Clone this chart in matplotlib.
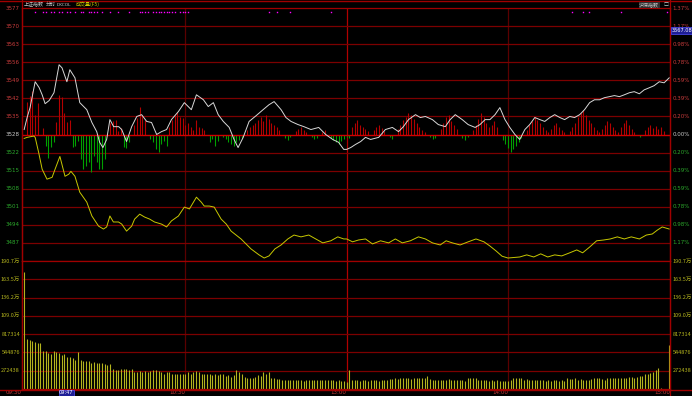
import matplotlib
matplotlib.use("Agg")
import matplotlib.pyplot as plt
import matplotlib.transforms as mtransforms
from matplotlib.lines import Line2D

plt.rcParams['font.family'] = ['Noto Sans CJK SC', 'DejaVu Sans']

# ---- data -------------------------------------------------------------
prev_close = 3528.5
step = 6.92  # one grid row, in index points

up_labels = ["3535", "3542", "3549", "3556", "3563", "3570", "3577"]
down_labels = ["3522", "3515", "3508", "3501", "3494", "3487"]
pct_labels = ["0.20%", "0.39%", "0.59%", "0.78%", "0.98%", "1.17%", "1.37%"]

vol_step = 272438
vol_labels = ["272438", "544876", "817314", "109.0万", "136.2万", "163.5万", "190.7万"]

time_labels = ["09:30", "10:30", "13:00", "14:00", "15:00"]
time_pos = [-0.8, 60, 120, 180, 240.3]

# weighted index (white line): minute, price
white_min = [0, 1.1, 2.2, 4.1, 5.6, 6.7, 7.8, 9.3, 11.1, 13,
             14.1, 15.9, 17, 18.9, 20.7, 23.3, 25.2, 27, 28.1, 29.3,
             30.7, 31.9, 33.3, 35.2, 36.3, 38.1, 40, 41.9, 43.7, 45.6,
             47.4, 49.3, 51.1, 53, 54.8, 57.4, 59.6, 62.2, 64.1, 66.7,
             68.5, 70.4, 72.2, 74.1, 76.3, 78.1, 79.6, 81.5, 83.7, 86.3,
             88.9, 91.1, 93, 95.6, 97.4, 99.3, 101.9, 104.1, 106.7, 109.6,
             112.2, 114.8, 117, 118.9, 120, 121.5, 123.3, 125.2, 127, 128.9,
             131.9, 134.4, 137, 139.3, 141.1, 143, 145.6, 147.4, 149.3, 151.9,
             154.1, 156.7, 158.5, 160.4, 163, 165.2, 167.8, 169.6, 171.5, 173.3,
             175.2, 177, 178.9, 180.7, 182.6, 184.4, 186.3, 188.1, 190, 191.9,
             193.7, 195.6, 197.4, 199.3, 201.1, 203, 204.8, 206.7, 208.5, 210.4,
             212.2, 214.1, 215.9, 217.8, 219.6, 221.5, 223.3, 225.2, 227, 228.9,
             230.7, 232.6, 234.4, 236.3, 238.1, 240]
white_px = [3530.4, 3535.0, 3538.8, 3548.7, 3546.4, 3543.7, 3540.3, 3541.5, 3544.5, 3555.2,
            3554.0, 3548.7, 3553.3, 3550.2, 3540.7, 3538.0, 3533.1, 3529.6, 3525.5, 3523.5,
            3526.6, 3534.2, 3531.5, 3531.5, 3530.4, 3525.8, 3531.5, 3535.4, 3536.1, 3533.5,
            3533.1, 3528.5, 3529.6, 3530.4, 3534.2, 3537.3, 3540.7, 3538.0, 3543.7, 3541.8,
            3539.2, 3540.7, 3536.1, 3533.5, 3531.2, 3526.6, 3523.5, 3527.4, 3533.5, 3535.7,
            3538.0, 3539.9, 3541.1, 3538.0, 3535.0, 3533.5, 3532.3, 3531.5, 3530.4, 3531.2,
            3528.5, 3526.6, 3525.5, 3522.8, 3522.8, 3523.5, 3524.7, 3525.8, 3527.4, 3526.6,
            3527.4, 3530.4, 3531.2, 3529.6, 3531.5, 3534.2, 3536.1, 3535.0, 3535.4, 3534.2,
            3532.3, 3531.5, 3534.2, 3536.1, 3534.2, 3532.3, 3531.2, 3532.3, 3534.2, 3534.2,
            3536.1, 3538.8, 3534.2, 3531.2, 3528.5, 3526.6, 3530.4, 3532.3, 3535.0, 3534.2,
            3533.5, 3535.0, 3536.1, 3535.0, 3534.2, 3535.4, 3535.0, 3536.1, 3538.0, 3540.7,
            3541.8, 3541.8, 3542.6, 3543.0, 3543.4, 3543.0, 3543.7, 3544.5, 3544.9, 3544.1,
            3545.6, 3546.4, 3547.2, 3548.7, 3548.3, 3550.2]

# unweighted index (yellow line)
yellow_min = [0, 1.1, 3.6, 4.1, 5.4, 6.7, 8.5, 10.4, 11.5, 13.3,
              15.2, 16.6, 17.4, 18.9, 20.7, 23.3, 25.2, 27.7, 29.5, 30.7,
              31.9, 33.2, 35.1, 36.3, 38.1, 40, 41.1, 43, 44.8, 46.7,
              48.5, 51.1, 53, 54.8, 57.4, 59.6, 61.5, 64.1, 65.9, 67,
              68.9, 70.7, 73.3, 75.2, 77, 80.7, 84.4, 87.4, 89.3, 91.1,
              93.3, 95.6, 98.1, 100.4, 103, 105.9, 108.5, 111.1, 114.1, 116.7,
              118.9, 120, 122.2, 124.4, 127, 129.6, 132.6, 135.6, 138.1, 140.7,
              143.7, 146.7, 149.3, 151.9, 154.8, 157, 159.3, 162.2, 165.2, 168.1,
              171.1, 173.3, 175.6, 177.8, 180, 182.2, 184.4, 187, 189.6, 192.2,
              194.8, 197.4, 200, 203, 205.6, 207.8, 210.4, 213, 215.6, 218.1,
              220.7, 223.3, 225.9, 228.9, 231.5, 233.7, 235.6, 237.4, 240]
yellow_px = [3527.0, 3527.4, 3527.9, 3527.4, 3521.6, 3515.2, 3511.4, 3512.1, 3515.2, 3520.1,
             3512.5, 3513.3, 3514.4, 3512.5, 3506.4, 3502.6, 3497.3, 3493.4, 3492.3, 3493.1,
             3497.3, 3495.0, 3495.0, 3494.2, 3491.5, 3493.4, 3496.1, 3498.0, 3496.9, 3496.1,
             3495.0, 3494.2, 3493.1, 3495.4, 3497.3, 3500.7, 3500.0, 3504.5, 3502.6, 3501.1,
             3501.1, 3500.7, 3496.1, 3494.2, 3491.5, 3488.5, 3484.7, 3482.4, 3481.2, 3482.0,
             3484.7, 3486.2, 3488.5, 3490.0, 3489.3, 3490.0, 3488.5, 3487.0, 3487.8, 3489.3,
             3488.5, 3488.5, 3487.4, 3488.1, 3488.5, 3486.6, 3487.8, 3487.0, 3488.5, 3487.0,
             3487.8, 3489.3, 3488.5, 3487.0, 3486.2, 3487.8, 3487.0, 3486.2, 3487.4, 3488.5,
             3487.4, 3485.8, 3483.9, 3481.9, 3481.2, 3481.4, 3481.6, 3482.4, 3481.6, 3482.8,
             3481.6, 3482.4, 3482.0, 3483.2, 3484.3, 3483.2, 3485.4, 3487.8, 3488.1, 3488.5,
             3489.3, 3488.5, 3489.3, 3488.5, 3490.0, 3490.4, 3491.9, 3493.1, 3492.3]

# DKCOL strength bars, one per minute (positive red, negative green)
dkcol = [0, 33, 39, 44, 20, 32, 0, 7, -12, -24,
         -13, -8, 13, 40, 38, 22, 13, 15, -13, -12,
         -7, -25, -35, -32, -28, -38, -22, -28, -35, -35,
         -25, 0, 12, 14, 15, 4, 7, -13, -14, -8,
         0, 10, 17, 28, 20, 15, 0, -5, -8, -15,
         -18, -10, -7, -12, 8, 15, 20, 23, 18, 17,
         10, 12, 8, 5, 15, 8, 7, 5, 0, -8,
         -5, -12, -7, 0, -3, -5, -8, -10, -12, -8,
         -6, -4, 0, 5, 8, 10, 12, 15, 18, 14,
         20, 16, 12, 10, 8, 5, 0, -4, -6, -3,
         0, 4, 6, 8, 5, 3, 0, -3, -5, -4,
         0, 3, 5, 0, -4, -6, -8, -10, -7, -5,
         -3, -4, 8, 12, 15, 10, 8, 6, 4, 0,
         5, 8, 10, 7, 4, 0, -3, -5, 0, 6,
         10, 15, 18, 22, 20, 16, 12, 8, 5, 3,
         0, -3, -5, -4, 0, 6, 12, 18, 20, 14,
         10, 6, 0, -4, -6, -3, 0, 5, 10, 16,
         22, 18, 12, 8, 10, 14, 8, 0, -6, -10,
         -14, -18, -15, -12, -8, -4, 0, 5, 10, 14,
         18, 15, 12, 8, 5, 3, 6, 10, 12, 8,
         5, 3, 0, 4, 8, 12, 18, 22, 25, 20,
         15, 12, 8, 5, 3, 6, 10, 14, 12, 8,
         5, 3, 8, 12, 15, 10, 6, 3, 0, -3,
         0, 5, 8, 10, 7, 9, 6, 8, 4, 0,
         0]
dkcol_scale = 0.381

# volume per minute, in 万 shares
volume_wan = [174, 75, 73, 71, 70, 69, 69, 57, 56, 53,
              52, 56, 55, 53, 51, 52, 48, 48, 46, 43,
              55, 43, 42, 41, 41, 38, 40, 38, 39, 38,
              37, 36, 37, 30, 29, 29, 30, 30, 30, 29,
              30, 26, 25, 27, 26, 27, 26, 27, 28, 29,
              27, 25, 23, 25, 26, 23, 22, 22, 23, 22,
              23, 25, 22, 26, 27, 25, 23, 22, 22, 23,
              21, 23, 21, 22, 22, 20, 21, 18, 21, 28,
              26, 23, 18, 16, 16, 16, 18, 21, 20, 25,
              23, 25, 17, 17, 15, 15, 13, 13, 13, 13,
              13, 13, 13, 13, 12, 14, 13, 13, 13, 13,
              13, 13, 13, 13, 13, 13, 12, 13, 12, 12,
              11, 29, 13, 13, 13, 12, 13, 13, 12, 13,
              13, 13, 12, 13, 13, 14, 15, 15, 16, 15,
              16, 16, 17, 16, 15, 16, 17, 17, 16, 17,
              20, 15, 13, 14, 14, 13, 13, 14, 15, 14,
              14, 14, 13, 13, 12, 17, 16, 16, 17, 13,
              14, 13, 13, 12, 13, 12, 14, 12, 12, 12,
              12, 13, 16, 17, 17, 16, 13, 15, 13, 13,
              13, 13, 13, 13, 12, 13, 12, 13, 13, 12,
              13, 12, 17, 15, 15, 16, 13, 15, 13, 14,
              13, 15, 17, 16, 17, 15, 13, 16, 17, 17,
              16, 17, 17, 16, 17, 18, 18, 17, 18, 20,
              20, 23, 23, 24, 26, 28, 31, 1, 0, 0,
              65]

# minutes with news markers along the top
news_min = [4, 7, 8, 10, 11, 13, 14, 16, 17, 19, 21, 22, 24, 25, 26, 27, 29,
            32, 35, 39, 43, 44, 45, 46, 48, 49, 50, 51, 52, 53, 54, 55, 56,
            58, 59, 60, 61, 91, 94, 99, 114, 204, 208, 210, 222, 239]

assert len(white_min) == len(white_px)
assert len(yellow_min) == len(yellow_px)

# ---- figure -----------------------------------------------------------
W, H = 692, 396
fig = plt.figure(figsize=(W / 100, H / 100), dpi=100, facecolor='black')

def fx(px):
    return px / W

def fy(py):
    return 1 - py / H

x0, x1 = 22, 670
ax = fig.add_axes([fx(x0), fy(261), fx(x1 - x0), fy(8) - fy(261)], facecolor='black')
axv = fig.add_axes([fx(x0), fy(389), fx(x1 - x0), fy(261) - fy(389)], facecolor='black', sharex=ax)

grid_c = '#7c0000'
up_c = '#c83c3c'
dn_c = '#2ca82c'
zero_c = '#c8c8c8'
vol_c = '#b4b41e'
fs = 4
num = 'DejaVu Sans'

for a in (ax, axv):
    a.set_xlim(-0.8, 240.3)
    a.set_xticks([])
    a.set_yticks([])
    for s in a.spines.values():
        s.set_color('#a00000')
        s.set_linewidth(0.9)
    for m, c in ((60, '#5a0000'), (120, '#b00000'), (180, '#5a0000')):
        a.axvline(m, color=c, lw=0.9, zorder=1)

ax.set_ylim(prev_close - 7 * step, prev_close + 7 * step)
for i in range(-6, 7):
    if i == 0:
        continue
    ax.axhline(prev_close + i * step, color=grid_c, lw=0.9, zorder=1)

# DKCOL bars
pos_m = [m for m, v in enumerate(dkcol) if v > 0]
pos_v = [prev_close + v * dkcol_scale for v in dkcol if v > 0]
neg_m = [m for m, v in enumerate(dkcol) if v < 0]
neg_v = [prev_close + v * dkcol_scale for v in dkcol if v < 0]
ax.vlines(pos_m, prev_close, pos_v, colors='#b40000', lw=0.8, zorder=2)
ax.vlines(neg_m, neg_v, prev_close, colors='#00a000', lw=0.8, zorder=2)
ax.axhline(prev_close, color='#d00000', lw=1.0, zorder=3)

ax.plot(yellow_min, yellow_px, color='#c8c800', lw=0.7, zorder=4)
ax.plot(white_min, white_px, color='#d8d8d8', lw=0.7, zorder=5)

trans = mtransforms.blended_transform_factory(ax.transData, ax.transAxes)
ax.plot(news_min, [0.985] * len(news_min), ls='none', marker='s', ms=1.0,
        color='#ff00ff', mec='none', transform=trans, zorder=6)

# price axis labels
ltr = mtransforms.blended_transform_factory(ax.transAxes, ax.transData)
lx = -2 / (x1 - x0)
rx = 1 + 2.5 / (x1 - x0)
for i, lab in enumerate(up_labels, start=1):
    y = prev_close + i * step
    ax.text(lx, y, lab, color=up_c, fontsize=fs, ha='right', va='center', transform=ltr, family=num)
    ax.text(rx, y, pct_labels[i - 1], color=up_c, fontsize=fs, ha='left', va='center', transform=ltr, family=num)
for i, lab in enumerate(down_labels, start=1):
    y = prev_close - i * step
    ax.text(lx, y, lab, color=dn_c, fontsize=fs, ha='right', va='center', transform=ltr, family=num)
    ax.text(rx, y, pct_labels[i - 1], color=dn_c, fontsize=fs, ha='left', va='center', transform=ltr, family=num)
ax.text(lx, prev_close, "3528", color=zero_c, fontsize=fs, ha='right', va='center', transform=ltr, family=num)
ax.text(rx, prev_close, "0.00%", color=zero_c, fontsize=fs, ha='left', va='center', transform=ltr, family=num)

# volume panel
volume = [v * 10000 for v in volume_wan]
axv.set_ylim(0, 7 * vol_step)
for i in range(1, 7):
    axv.axhline(i * vol_step, color=grid_c, lw=0.9, zorder=1)
axv.vlines(range(len(volume)), 0, volume, colors=vol_c, lw=0.8, zorder=2)
vtr = mtransforms.blended_transform_factory(axv.transAxes, axv.transData)
for i, lab in enumerate(vol_labels, start=1):
    axv.text(lx, i * vol_step, lab, color=vol_c, fontsize=fs, ha='right', va='center', transform=vtr)
    axv.text(rx, i * vol_step, lab, color=vol_c, fontsize=fs, ha='left', va='center', transform=vtr)

# time axis
ttr = mtransforms.blended_transform_factory(axv.transData, fig.transFigure)
for lab, m in zip(time_labels, time_pos):
    axv.text(m, fy(392.8), lab, color='#c83c3c', fontsize=fs, ha='right', va='center',
             transform=ttr, family=num)

# frame lines outside the panels
fig.add_artist(Line2D([0, 1], [fy(0.6), fy(0.6)], color='#a00000', lw=1.0, transform=fig.transFigure))
fig.add_artist(Line2D([0, 1], [fy(389.5), fy(389.5)], color='#a00000', lw=1.0, transform=fig.transFigure))
fig.add_artist(Line2D([fx(x0), fx(x0)], [fy(0), fy(390)], color='#a00000', lw=0.9, transform=fig.transFigure))
fig.add_artist(Line2D([fx(x1), fx(x1)], [fy(0), fy(396)], color='#a00000', lw=0.9, transform=fig.transFigure))

# header
hdr = 3.6
fig.text(fx(24), fy(4.5), "上证指数", color='#c8c8c8', fontsize=hdr, va='center')
fig.text(fx(46), fy(4.5), "分时", color='#c8c8c8', fontsize=hdr, va='center')
fig.text(fx(57), fy(4.5), "DKCOL", color='#c8c8c8', fontsize=3.2, va='center', family=num)
fig.text(fx(76), fy(4.5), "成交量(F5)", color='#c8c800', fontsize=hdr, va='center')
fig.text(fx(639), fy(4.5), "沪深指数", color='#c8c8c8', fontsize=hdr, va='center',
         bbox=dict(boxstyle='square,pad=0.1', fc='#303030', ec='none'))
fig.text(fx(664), fy(4.5), "□", color='#c8c8c8', fontsize=hdr, va='center')

# cursor readouts
fig.text(fx(671.5), fy(30.5), "3567.08", color='white', fontsize=3.6, va='center', family=num,
         bbox=dict(boxstyle='square,pad=0.12', fc='#1e1e96', ec='#5050ff', lw=0.5))
fig.text(fx(59), fy(392.8), "09:47", color='white', fontsize=3.6, va='center', family=num,
         bbox=dict(boxstyle='square,pad=0.1', fc='#1e1e96', ec='#5050ff', lw=0.5))

fig.savefig("out.png", dpi=100, facecolor='black')
